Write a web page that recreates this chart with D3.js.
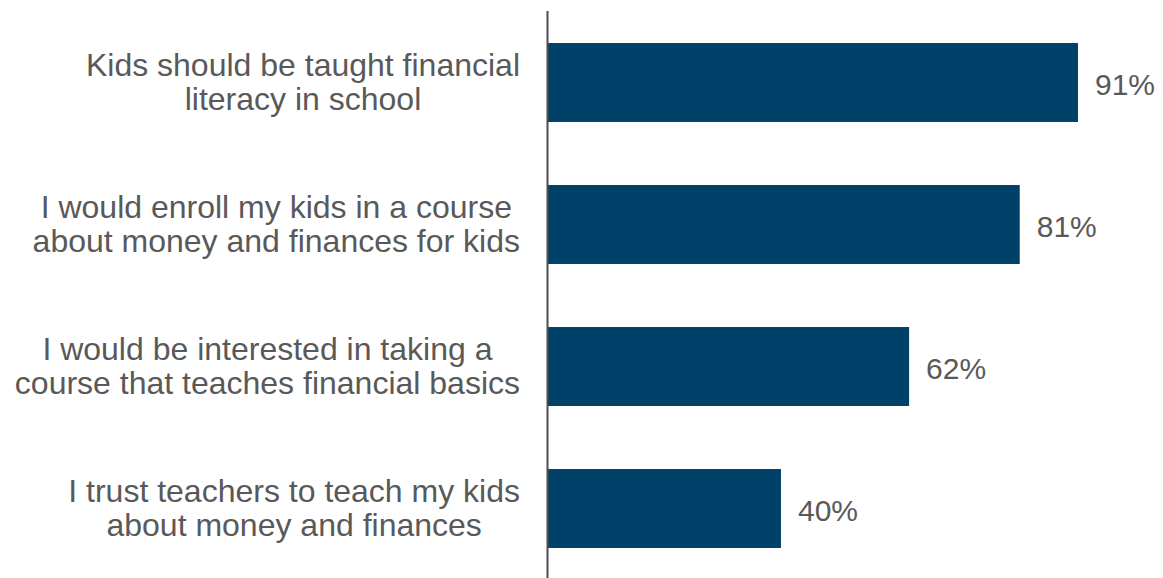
<!DOCTYPE html>
<html>
<head>
<meta charset="utf-8">
<script src="https://cdn.jsdelivr.net/npm/d3@7"></script>
<style>
  html, body { margin: 0; padding: 0; background: #ffffff; }
  svg { display: block; }
</style>
</head>
<body>
<svg id="chart" width="1163" height="578"></svg>
<script>
// ---- data ----
const categories = [
  ["Kids should be taught financial", "literacy in school"],
  ["I would enroll my kids in a course", "about money and finances for kids"],
  ["I would be interested in taking a", "course that teaches financial basics"],
  ["I trust teachers to teach my kids", "about money and finances"]
];
const values = [91, 81, 62, 40];
const valueLabels = ["91%", "81%", "62%", "40%"];

// ---- layout ----
const W = 1163, H = 578;
const axisX = 548;
const svg = d3.select("#chart");
const textColor = "#595959";
const barColor = "#00416A";
const font = "'Liberation Sans', Arial, sans-serif";

const ids = d3.range(categories.length);
const y = d3.scaleBand().domain(ids).range([11.5, 579.5]).paddingInner(0.444).paddingOuter(0.222);
const x = d3.scaleLinear().domain([0, 100]).range([axisX, axisX + 582.4]);

// bars
svg.append("g").selectAll("rect").data(ids).join("rect")
  .attr("x", x(0))
  .attr("y", i => y(i))
  .attr("width", i => x(values[i]) - x(0))
  .attr("height", y.bandwidth())
  .attr("fill", barColor);

// value labels
svg.append("g").selectAll("text").data(ids).join("text")
  .attr("x", i => x(values[i]) + 17)
  .attr("y", i => y(i) + y.bandwidth() / 2 + 12)
  .attr("font-family", font)
  .attr("font-size", 30)
  .attr("fill", textColor)
  .text(i => valueLabels[i]);

// category labels (block right-aligned at 520, lines centered)
const lblG = svg.append("g");
ids.forEach(i => {
  const c = y(i) + y.bandwidth() / 2;
  const t = lblG.append("text")
    .attr("font-family", font)
    .attr("font-size", 32)
    .attr("fill", textColor)
    .attr("text-anchor", "middle");
  const spans = categories[i].map((line, k) =>
    t.append("tspan").attr("y", c - 6.5 + k * 34).text(line));
  let maxW = 0;
  spans.forEach(s => { maxW = Math.max(maxW, s.node().getComputedTextLength()); });
  const cx = 520 - maxW / 2;
  spans.forEach(s => s.attr("x", cx));
});

// vertical axis line
svg.append("line")
  .attr("x1", axisX - 0.5).attr("x2", axisX - 0.5)
  .attr("y1", 11).attr("y2", H)
  .attr("stroke", "#4d4d4d")
  .attr("stroke-width", 2);
</script>
</body>
</html>
